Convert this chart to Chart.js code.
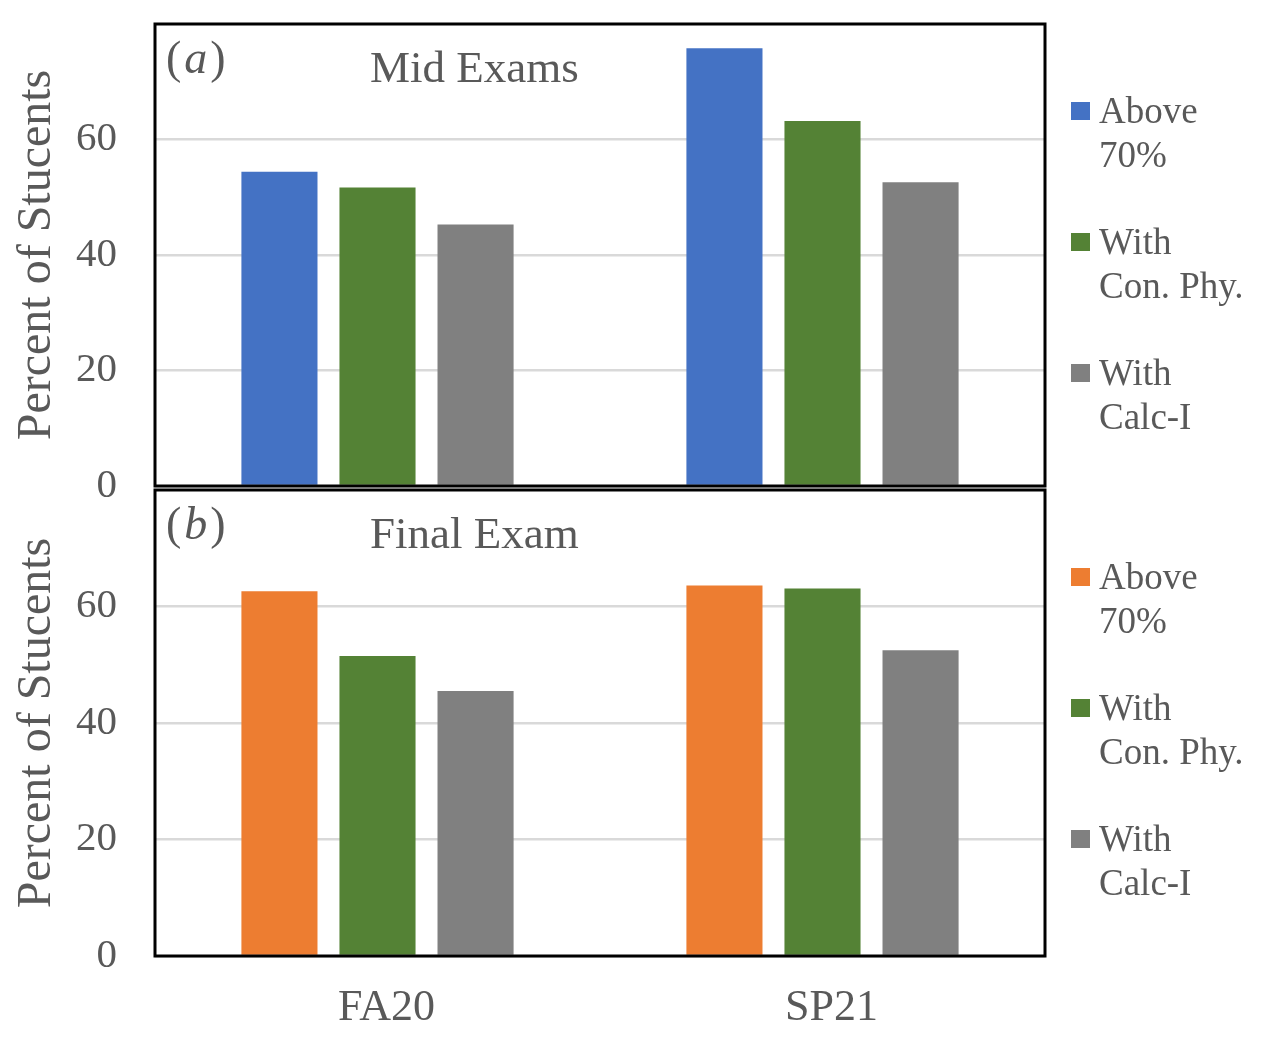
<!DOCTYPE html>
<html>
<head>
<meta charset="utf-8">
<script src="https://cdn.jsdelivr.net/npm/chart.js@4"></script>
<style>
  body { margin: 0; background: #fff; }
  #wrap { position: relative; width: 1274px; height: 1051px; }
  #wrap canvas { position: absolute; left: 0; top: 0; }
</style>
</head>
<body>
<div id="wrap">
  <canvas id="midChart" width="1274" height="1051"></canvas>
  <canvas id="finalChart" width="1274" height="1051"></canvas>
</div>
<script>
// data (percent of students)
const categories = ['FA20', 'SP21'];
const legendAbove = ['Above', '70%'];
const legendConPhy = ['With', 'Con. Phy.'];
const legendCalc = ['With', 'Calc-I'];
const yTicks = [0, 20, 40, 60];

const midAbove = [54.4, 75.8];
const midConPhy = [51.7, 63.2];
const midCalc = [45.3, 52.6];

const finalAbove = [62.6, 63.6];
const finalConPhy = [51.5, 63.1];
const finalCalc = [45.5, 52.5];

const FONT = '"Liberation Serif", "Times New Roman", serif';
const TEXT = '#595959';

// frame, panel tag, title and the two-line legend
const panelDecor = {
  id: 'panelDecor',
  afterDraw(chart, args, o) {
    const { ctx, chartArea: a } = chart;
    ctx.save();
    ctx.strokeStyle = '#000';
    ctx.lineWidth = 3;
    ctx.strokeRect(a.left, a.top, a.right - a.left, a.bottom - a.top);

    ctx.fillStyle = TEXT;
    ctx.textAlign = 'left';
    ctx.textBaseline = 'alphabetic';
    let x = a.left + 11;
    const y = a.top + 49;
    ctx.font = '46px ' + FONT;
    ctx.fillText('(', x, y);
    x += ctx.measureText('(').width + 3;
    ctx.font = 'italic 46px ' + FONT;
    ctx.fillText(o.tag, x, y);
    x += ctx.measureText(o.tag).width + 3;
    ctx.font = '46px ' + FONT;
    ctx.fillText(')', x, y);

    ctx.font = '45px ' + FONT;
    ctx.fillText(o.title, 370, a.top + 58);

    ctx.font = '37px ' + FONT;
    chart.data.datasets.forEach((ds, i) => {
      const base = a.top + 99 + i * 131;
      ctx.fillStyle = ds.backgroundColor;
      ctx.fillRect(1071, base - 21, 19, 18);
      ctx.fillStyle = TEXT;
      ds.label.forEach((line, j) => ctx.fillText(line, 1099, base + j * 44));
    });
    ctx.restore();
  }
};

function makePanel(id, series, colors, labels, tag, title, top, bottom, showX) {
  return new Chart(document.getElementById(id), {
    type: 'bar',
    data: {
      labels: categories,
      datasets: series.map((s, i) => ({
        label: labels[i],
        data: s,
        backgroundColor: colors[i],
        categoryPercentage: 0.661,
        barPercentage: 0.776,
      })),
    },
    options: {
      responsive: false,
      animation: false,
      devicePixelRatio: 1,
      layout: { padding: { left: 0, right: 229, top: top, bottom: showX ? 0 : 1051 - bottom } },
      plugins: {
        legend: { display: false },
        tooltip: { enabled: false },
        panelDecor: { tag: tag, title: title },
      },
      scales: {
        x: {
          display: showX,
          grid: { display: false },
          border: { display: false },
          ticks: { color: TEXT, font: { family: FONT, size: 44 }, padding: 18, labelOffset: 9 },
          afterFit: (s) => { if (showX) s.height = 1051 - bottom; },
        },
        y: {
          min: 0,
          max: 80,
          afterBuildTicks: (s) => { s.ticks = yTicks.map(v => ({ value: v })); },
          grid: { color: '#D9D9D9', lineWidth: 2.5, drawTicks: false },
          border: { display: false },
          ticks: { color: TEXT, font: { family: FONT, size: 41 }, padding: 38 },
          title: {
            display: true,
            text: 'Percent of Stucents',
            color: TEXT,
            font: { family: FONT, size: 48 },
            padding: { top: 9, bottom: 0 },
          },
          afterFit: (s) => {
            s.width = 155;
            // keep the label overhang from pushing the plot area down
            s.paddingTop = 0;
            s.paddingBottom = 0;
          },
        },
      },
    },
    plugins: [panelDecor],
  });
}

makePanel('midChart', [midAbove, midConPhy, midCalc],
  ['#4472C4', '#548235', '#808080'],
  [legendAbove, legendConPhy, legendCalc],
  'a', 'Mid Exams', 24, 486, false);

makePanel('finalChart', [finalAbove, finalConPhy, finalCalc],
  ['#ED7D31', '#548235', '#808080'],
  [legendAbove, legendConPhy, legendCalc],
  'b', 'Final Exam', 490, 956, true);
</script>
</body>
</html>
